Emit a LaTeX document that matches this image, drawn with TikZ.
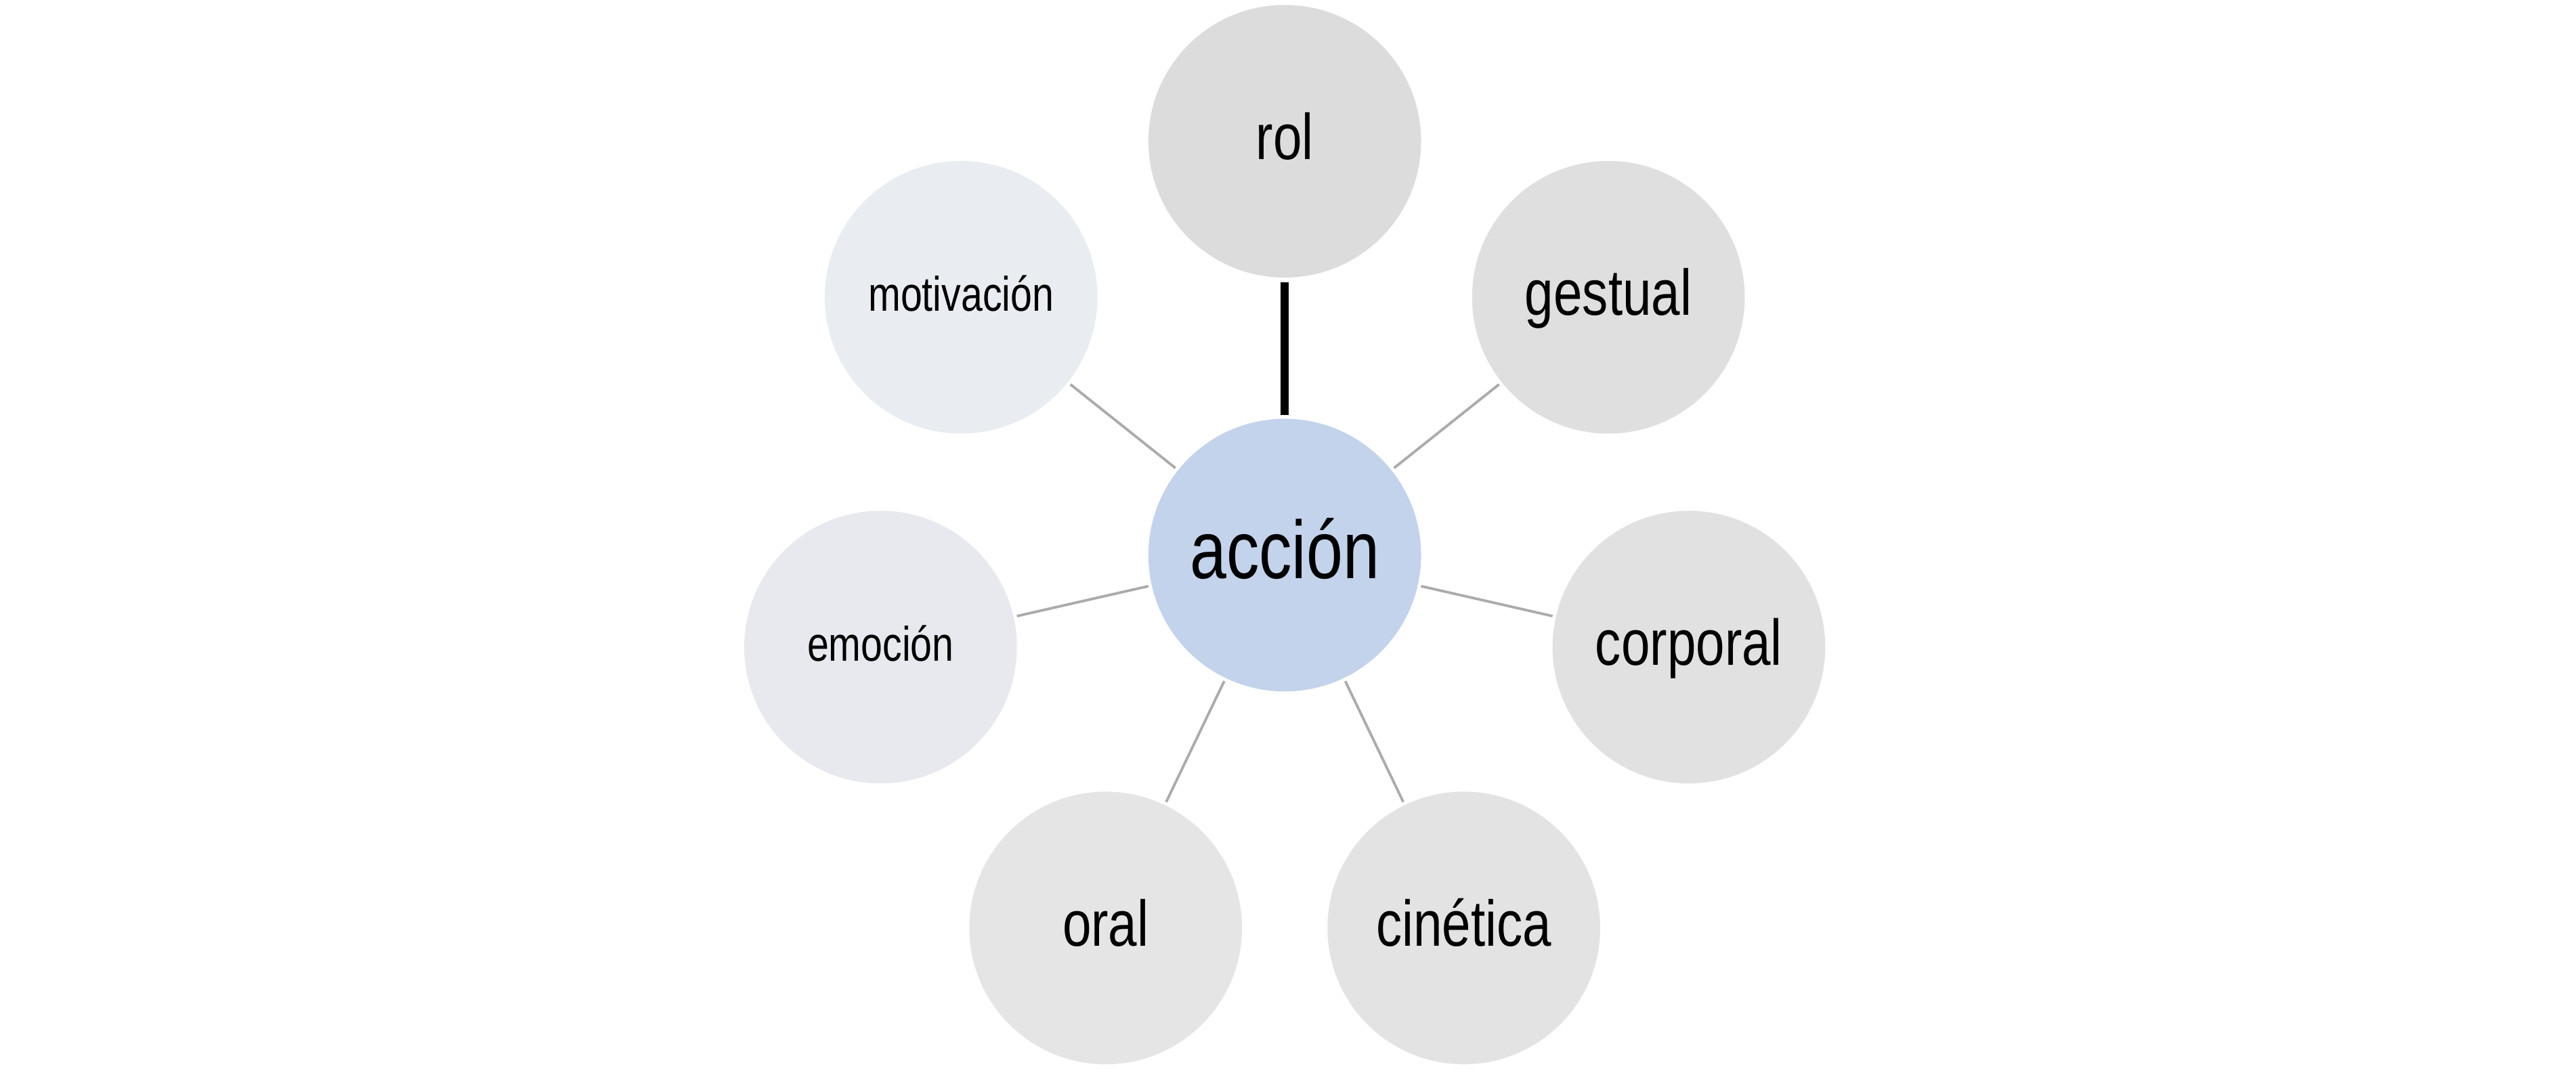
\documentclass[tikz,border=0pt]{standalone}
\usepackage{fontspec}
\setmainfont{Liberation Sans}[FakeStretch=0.8]
\usepackage{xcolor}
\usepackage{tikz}
\definecolor{ACBlue}{HTML}{C4D3EC}
\definecolor{ACRol}{HTML}{DCDCDC}
\definecolor{ACGestual}{HTML}{DFDFDF}
\definecolor{ACCorporal}{HTML}{E1E1E1}
\definecolor{ACCinetica}{HTML}{E3E3E3}
\definecolor{ACOral}{HTML}{E5E5E5}
\definecolor{ACEmocion}{HTML}{E7E9EE}
\definecolor{ACMotiv}{HTML}{E9ECF1}
\definecolor{ACLine}{HTML}{ABABAB}

\begin{document}
\begin{tikzpicture}[x=1cm,y=1cm,
  bubble/.style={circle,minimum size=1.66cm,inner sep=0pt,text depth=0pt},
  bigtext/.style={font=\fontsize{14.2}{17}\selectfont,text height=8.2pt},
  midtext/.style={font=\fontsize{11.2}{13.5}\selectfont,text height=6.3pt},
  smalltext/.style={font=\fontsize{8.4}{10}\selectfont,text height=4.8pt},
  link/.style={ACLine,line width=0.45pt,shorten <=0.4pt,shorten >=0.4pt}]
\path[use as bounding box] (0,0) rectangle (15.68,6.52);
\node[bubble,bigtext,fill=ACBlue] (accion) at (7.82,3.14) {acción};
\node[bubble,midtext,fill=ACRol] (rol) at (7.82,5.66) {rol};
\node[bubble,midtext,fill=ACGestual] (gestual) at (9.79,4.71) {gestual};
\node[bubble,midtext,fill=ACCorporal] (corporal) at (10.28,2.58) {corporal};
\node[bubble,midtext,fill=ACCinetica] (cinetica) at (8.91,0.87) {cinética};
\node[bubble,midtext,fill=ACOral] (oral) at (6.73,0.87) {oral};
\node[bubble,smalltext,fill=ACEmocion] (emocion) at (5.36,2.58) {emoción};
\node[bubble,smalltext,fill=ACMotiv] (motivacion) at (5.85,4.71) {motivación};
\draw[black,line width=1.4pt,shorten <=0.5pt,shorten >=0.6pt] (accion) -- (rol);
\draw[link] (accion) -- (gestual);
\draw[link] (accion) -- (corporal);
\draw[link] (accion) -- (cinetica);
\draw[link] (accion) -- (oral);
\draw[link] (accion) -- (emocion);
\draw[link] (accion) -- (motivacion);
\end{tikzpicture}
\end{document}
